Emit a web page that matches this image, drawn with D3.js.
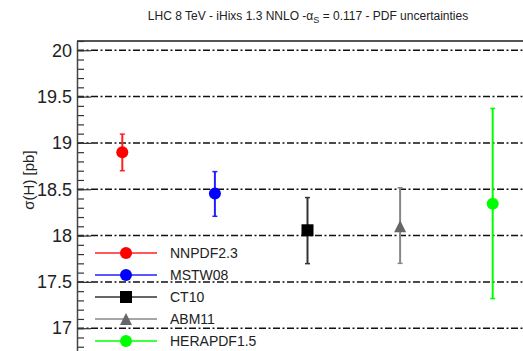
<!DOCTYPE html>
<html>
<head>
<meta charset="utf-8">
<script src="https://cdn.jsdelivr.net/npm/d3@7"></script>
<style>
  body { margin: 0; background: #fff; }
  text { font-family: "Liberation Sans", Helvetica, Arial, sans-serif; }
</style>
</head>
<body>
<svg></svg>
<script>
// data
let pdfSets = ["NNPDF2.3", "MSTW08", "CT10", "ABM11", "HERAPDF1.5"];
let central = [18.90, 18.455, 18.057, 18.10, 18.344];
let errUp   = [19.095, 18.69, 18.41, 18.516, 19.372];
let errDown = [18.70, 18.208, 17.697, 17.70, 17.32];
let majorTicks = [17, 17.5, 18, 18.5, 19, 19.5, 20];

let colors = ["#ff0000", "#0000ff", "#000000", "#777777", "#00ff00"];
let barColors = ["#ff2020", "#2020ff", "#333333", "#888888", "#00ff00"];
let shapes = ["circle", "circle", "square", "triangle", "circle"];

let width = 523;
let height = 351;
let left = 77;

let data = pdfSets.map((name, i) => ({
    name: name,
    val: central[i],
    hi: errUp[i],
    lo: errDown[i],
    color: colors[i],
    barColor: barColors[i],
    shape: shapes[i]
}));

let svg = d3.select("svg")
            .attr("width", width)
            .attr("height", height)

let yScale = d3.scaleLinear()
                .domain([16.7, 20.1])
                .range([356, 41])

let xScale = d3.scaleBand()
                .domain(pdfSets)
                .range([76, 539])

// title
let title = svg.append("text")
    .attr("x", 308)
    .attr("y", 20)
    .attr("text-anchor", "middle")
    .attr("font-size", 12)
    .attr("fill", "#222")
title.append("tspan").text("LHC 8 TeV - iHixs 1.3 NNLO -\u03b1")
title.append("tspan").attr("font-size", 9).attr("dy", 3).text("S")
title.append("tspan").attr("dy", -3).text(" = 0.117 - PDF uncertainties")

// dash-dot grid
svg.append("g")
    .selectAll("line")
    .data(majorTicks)
    .enter()
    .append("line")
    .attr("x1", left)
    .attr("x2", width)
    .attr("y1", d => yScale(d))
    .attr("y2", d => yScale(d))
    .attr("stroke", "#111")
    .attr("stroke-width", 1.5)
    .attr("stroke-dasharray", "7,2.5,2,2.5")

// frame top
svg.append("line")
    .attr("x1", left)
    .attr("x2", width)
    .attr("y1", 41)
    .attr("y2", 41)
    .attr("stroke", "#555")
    .attr("stroke-width", 2)

// minor ticks
let minorAxis = d3.axisLeft(yScale)
                .tickValues(d3.range(168, 202).map(d => d / 10))
                .tickSize(-7)
                .tickSizeOuter(0)
                .tickFormat("")

let yAxis = d3.axisLeft(yScale)
                .tickValues(majorTicks)
                .tickSize(-14)
                .tickSizeOuter(0)
                .tickPadding(5)
                .tickFormat(d3.format(""))

let gMinor = svg.append("g")
    .attr("transform", "translate(" + left + ", 0)")
    .call(minorAxis)
gMinor.selectAll("line").attr("stroke", "#333").attr("stroke-width", 1.2)
gMinor.select(".domain").remove()

let gAxis = svg.append("g")
    .attr("transform", "translate(" + left + ", 0)")
    .call(yAxis)
gAxis.selectAll("line").attr("stroke", "#333").attr("stroke-width", 1.2)
gAxis.select(".domain").attr("stroke", "#444").attr("stroke-width", 1.5)
gAxis.selectAll("text")
    .attr("font-size", 18)
    .attr("fill", "#222")
    .style("font-family", "'Liberation Sans', Helvetica, Arial, sans-serif")

// y label
svg.append("text")
    .attr("transform", "translate(34, 180) rotate(-90)")
    .attr("text-anchor", "middle")
    .attr("font-size", 15)
    .attr("fill", "#222")
    .text("\u03c3(H) [pb]")

function drawMarker(g, d, cx, cy) {
    if (d.shape == "circle") {
        g.append("circle")
            .attr("cx", cx).attr("cy", cy).attr("r", 6)
            .attr("fill", d.color)
    } else if (d.shape == "square") {
        g.append("rect")
            .attr("x", cx - 6).attr("y", cy - 6)
            .attr("width", 12).attr("height", 12)
            .attr("fill", d.color)
    } else {
        g.append("path")
            .attr("d", "M" + cx + "," + (cy - 6) + "L" + (cx + 6) + "," + (cy + 6) + "L" + (cx - 6) + "," + (cy + 6) + "Z")
            .attr("fill", "#666")
    }
}

// error bars and points
let points = svg.append("g")
data.forEach(d => {
    let cx = xScale(d.name) + xScale.bandwidth() / 2;
    let g = points.append("g");
    g.append("line")
        .attr("x1", cx).attr("x2", cx)
        .attr("y1", yScale(d.hi)).attr("y2", yScale(d.lo))
        .attr("stroke", d.barColor)
        .attr("stroke-width", 2)
    ;[d.hi, d.lo].forEach(v => {
        g.append("line")
            .attr("x1", cx - 2.5).attr("x2", cx + 2.5)
            .attr("y1", yScale(v)).attr("y2", yScale(v))
            .attr("stroke", d.barColor)
            .attr("stroke-width", 1.5)
    });
    drawMarker(g, d, cx, yScale(d.val));
});

// legend
let legend = svg.append("g")
data.forEach((d, i) => {
    let ly = 253 + i * 22;
    let g = legend.append("g");
    g.append("line")
        .attr("x1", 95).attr("x2", 157)
        .attr("y1", ly).attr("y2", ly)
        .attr("stroke", d.barColor)
        .attr("stroke-width", 1.5)
    drawMarker(g, d, 126, ly);
    g.append("text")
        .attr("x", 170)
        .attr("y", ly + 5)
        .attr("font-size", 14)
        .attr("fill", "#222")
        .text(d.name)
});
</script>
</body>
</html>
